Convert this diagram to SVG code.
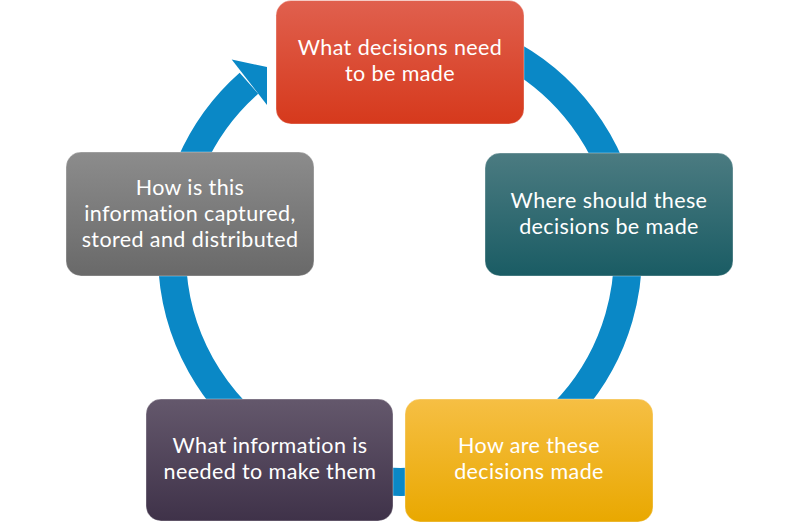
<svg xmlns="http://www.w3.org/2000/svg" width="800" height="523" viewBox="0 0 800 523">
  <defs>
    <linearGradient id="gRed" x1="0" y1="0" x2="0" y2="1">
      <stop offset="0" stop-color="#e0604e"/>
      <stop offset="1" stop-color="#d6391c"/>
    </linearGradient>
    <linearGradient id="gTeal" x1="0" y1="0" x2="0" y2="1">
      <stop offset="0" stop-color="#4b7b81"/>
      <stop offset="1" stop-color="#1a5c64"/>
    </linearGradient>
    <linearGradient id="gYellow" x1="0" y1="0" x2="0" y2="1">
      <stop offset="0" stop-color="#f6bf44"/>
      <stop offset="1" stop-color="#e9a800"/>
    </linearGradient>
    <linearGradient id="gPurple" x1="0" y1="0" x2="0" y2="1">
      <stop offset="0" stop-color="#64586c"/>
      <stop offset="1" stop-color="#3f3249"/>
    </linearGradient>
    <linearGradient id="gGray" x1="0" y1="0" x2="0" y2="1">
      <stop offset="0" stop-color="#8c8c8c"/>
      <stop offset="1" stop-color="#696969"/>
    </linearGradient>
  </defs>
  <style>
    .box { stroke: rgba(255,255,255,0.35); stroke-width: 1; }
    .lbl { font-family: Lato, "Open Sans", "DejaVu Sans", sans-serif; font-size: 21.5px; letter-spacing: 0.4px; fill: #ffffff; text-anchor: middle; }
    .ring { fill: none; stroke: #0a88c6; stroke-width: 28; }
  </style>
  <g id="connectors">
    <path class="ring" d="M 400 26 A 228 228 0 1 1 248.9 83.2"/>
    <polygon points="231.7,59.5 267,67 267,105" fill="#0a88c6"/>
  </g>
  <g id="node-what-decisions">
    <rect class="box" x="276" y="0.5" width="248" height="123.5" rx="15" fill="url(#gRed)"/>
    <text class="lbl" x="400" y="55">What decisions need</text>
    <text class="lbl" x="400" y="81">to be made</text>
  </g>
  <g id="node-where">
    <rect class="box" x="485" y="153" width="248" height="123" rx="15" fill="url(#gTeal)"/>
    <text class="lbl" x="609" y="208">Where should these</text>
    <text class="lbl" x="609" y="234">decisions be made</text>
  </g>
  <g id="node-how-made">
    <rect class="box" x="405" y="399" width="248" height="123" rx="15" fill="url(#gYellow)"/>
    <text class="lbl" x="529" y="453">How are these</text>
    <text class="lbl" x="529" y="479">decisions made</text>
  </g>
  <g id="node-what-info">
    <rect class="box" x="146" y="399" width="247" height="122" rx="15" fill="url(#gPurple)"/>
    <text class="lbl" x="270" y="453">What information is</text>
    <text class="lbl" x="270" y="479">needed to make them</text>
  </g>
  <g id="node-how-captured">
    <rect class="box" x="66" y="152" width="248" height="124" rx="15" fill="url(#gGray)"/>
    <text class="lbl" x="190" y="195">How is this</text>
    <text class="lbl" x="190" y="221">information captured,</text>
    <text class="lbl" x="190" y="247">stored and distributed</text>
  </g>
</svg>
